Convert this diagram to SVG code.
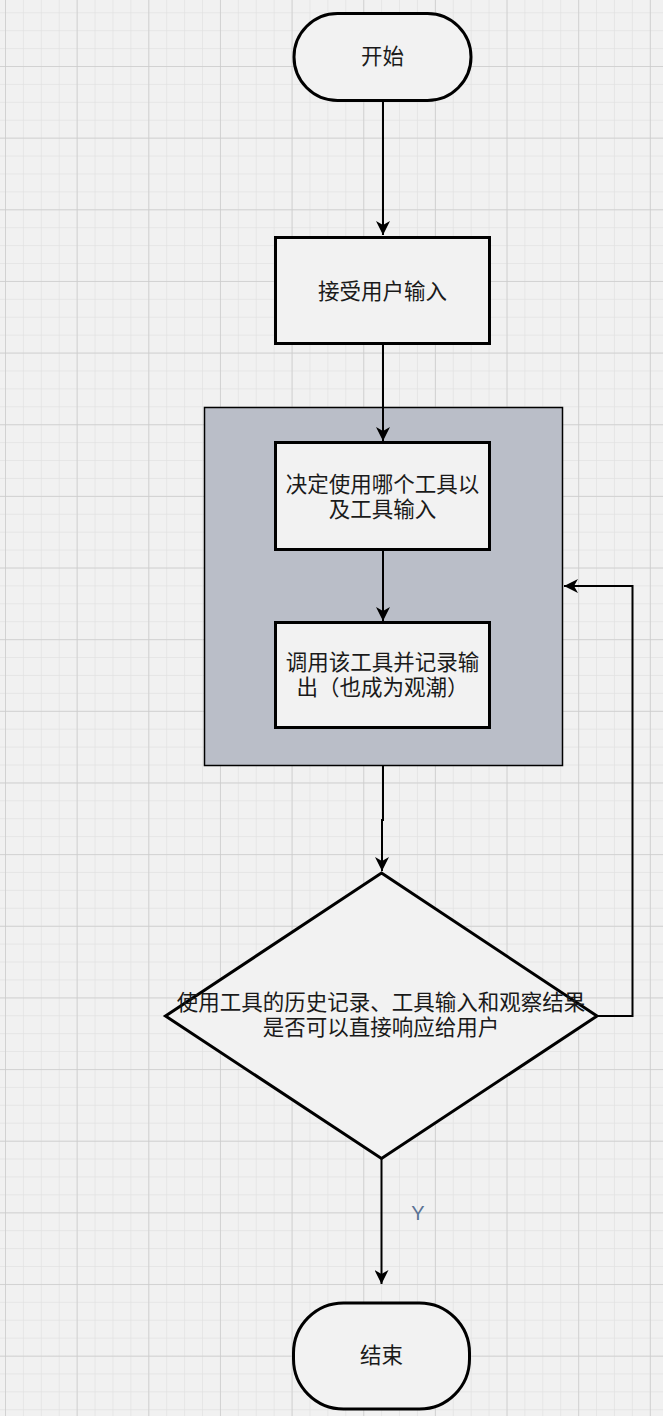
<svg xmlns="http://www.w3.org/2000/svg" width="663" height="1416" viewBox="0 0 663 1416">
<style>
.shape{fill:#f2f2f2;stroke:#000;stroke-width:3}
.lbl{font-family:"Liberation Sans","Noto Sans CJK SC",sans-serif;font-size:21.5px;fill:#1a1a1a;text-anchor:middle;dominant-baseline:central}
.edge{fill:none;stroke:#000;stroke-width:2}
</style>
<defs>
<pattern id="minor" patternUnits="userSpaceOnUse" x="5" y="66" width="17.91" height="17.91">
<path d="M0,0 V17.91 M0,0 H17.91" fill="none" stroke="#e2e2e2" stroke-width="1.5"/>
</pattern>
<pattern id="major" patternUnits="userSpaceOnUse" x="5" y="66" width="71.65" height="71.65">
<path d="M0,0 V71.65 M0,0 H71.65" fill="none" stroke="#cbcbcb" stroke-width="1.5"/>
</pattern>
<marker id="arr" markerUnits="userSpaceOnUse" markerWidth="16" markerHeight="14" refX="14" refY="7" orient="auto">
<path d="M0,0 L14,7 L0,14 L4,7 Z" fill="#000"/>
</marker>
</defs>
<rect width="663" height="1416" fill="#f1f1f1"/>
<rect width="663" height="1416" fill="url(#minor)"/>
<rect width="663" height="1416" fill="url(#major)"/>

<g id="container">
<rect x="204.5" y="407.5" width="358" height="358" fill="#babec8" stroke="#000" stroke-width="1.5"/>
</g>

<g id="connectors">
<path class="edge" d="M383,102 V235" marker-end="url(#arr)"/>
<path class="edge" d="M383,344 V441" marker-end="url(#arr)"/>
<path class="edge" d="M383,551 V621" marker-end="url(#arr)"/>
<path class="edge" d="M383,766 V820 H382 V871" marker-end="url(#arr)"/>
<path class="edge" d="M598,1016 H632.5 V586 H564" marker-end="url(#arr)"/>
<path class="edge" d="M381.5,1159 V1284" marker-end="url(#arr)"/>
<text x="418" y="1213" font-family="Liberation Sans, sans-serif" font-size="20" fill="#5b7394" text-anchor="middle" dominant-baseline="central">Y</text>
</g>

<g id="start">
<rect class="shape" x="294" y="13.5" width="177" height="87" rx="43.5" stroke-width="3.5"/>
<text class="lbl" x="382.5" y="57">开始</text>
</g>

<g id="input">
<rect class="shape" x="275.5" y="237.5" width="214" height="106"/>
<text class="lbl" x="382.5" y="292">接受用户输入</text>
</g>

<g id="decide">
<rect class="shape" x="275.5" y="442.5" width="214" height="107"/>
<text class="lbl" x="382.5" y="485">决定使用哪个工具以</text>
<text class="lbl" x="382.5" y="510">及工具输入</text>
</g>

<g id="call">
<rect class="shape" x="275.5" y="622.5" width="214" height="105"/>
<text class="lbl" x="382.5" y="663">调用该工具并记录输</text>
<text class="lbl" x="382.5" y="688">出（也成为观潮）</text>
</g>

<g id="check">
<polygon class="shape" points="381.5,873 597,1016 381.5,1158.5 165.5,1016"/>
<text class="lbl" x="381" y="1003">使用工具的历史记录、工具输入和观察结果</text>
<text class="lbl" x="381" y="1028">是否可以直接响应给用户</text>
</g>

<g id="end">
<rect class="shape" x="293.5" y="1303" width="176" height="106" rx="50" stroke-width="3.5"/>
<text class="lbl" x="381.5" y="1356">结束</text>
</g>
</svg>
